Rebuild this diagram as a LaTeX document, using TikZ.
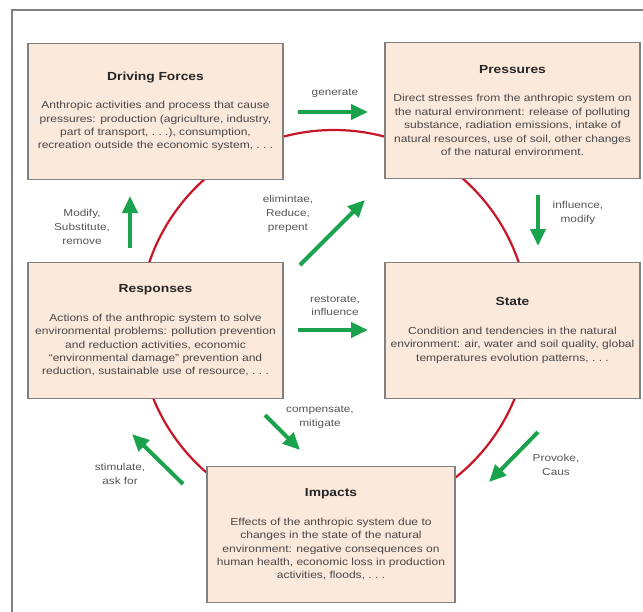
\documentclass[tikz,border=0pt]{standalone}
\usepackage{fontspec}
\setmainfont[FakeStretch=1.18]{Liberation Sans}
\usetikzlibrary{arrows.meta}

\definecolor{boxfill}{RGB}{251,233,220}
\definecolor{boxline}{RGB}{128,128,128}
\definecolor{ringred}{RGB}{200,22,40}
\definecolor{flowgreen}{RGB}{26,163,76}
\definecolor{labelgray}{RGB}{85,85,85}
\newcommand{\boxhead}[1]{{\fontsize{11.7}{14}\selectfont\bfseries\color{black!85}#1}}
\newcommand{\etcdots}{.\ .\ .}

\begin{document}
\begin{tikzpicture}[x=1pt, y=-1pt,
  box/.style={draw=boxline, line width=1.5pt, fill=boxfill, minimum width=255pt,
    minimum height=136pt, inner sep=0pt, align=center, text=black!72,
    font=\fontsize{10.2}{13.4}\selectfont},
  ring/.style={ringred, line width=2.2pt},
  flow/.style={-{Triangle[length=17pt,width=15pt]}, flowgreen, line width=4pt},
  flowlabel/.style={align=center, text=labelgray, font=\fontsize{10}{13.6}\selectfont}]
  \clip (0,0) rectangle (643,611);

  % Outer frame
  \draw[boxline, line width=1.2pt] (12,10) rectangle (660,630);

  % Red cycle behind the boxes
  \draw[ring] (334,325) circle[radius=195pt];

  % Boxes
  \node[box] (drive) at (155.5,111.5) {\boxhead{Driving Forces}\\[15pt]
    Anthropic activities and process that cause\\
    pressures: production (agriculture, industry,\\
    part of transport, \etcdots), consumption,\\
    recreation outside the economic system, \etcdots};
  \node[box] (press) at (512.5,110.5) {\boxhead{Pressures}\\[15pt]
    Direct stresses from the anthropic system on\\
    the natural environment: release of polluting\\
    substance, radiation emissions, intake of\\
    natural resources, use of soil, other changes\\
    of the natural environment.};
  \node[box] (resp) at (155.5,330.5) {\boxhead{Responses}\\[15pt]
    Actions of the anthropic system to solve\\
    environmental problems: pollution prevention\\
    and reduction activities, economic\\
    ``environmental damage'' prevention and\\
    reduction, sustainable use of resource, \etcdots};
  \node[box] (state) at (512.5,330.5) {\boxhead{State}\\[15pt]
    Condition and tendencies in the natural\\
    environment: air, water and soil quality, global\\
    temperatures evolution patterns, \etcdots};
  \node[box, minimum width=248pt] (impact) at (331,534.5) {\boxhead{Impacts}\\[15pt]
    Effects of the anthropic system due to\\
    changes in the state of the natural\\
    environment: negative consequences on\\
    human health, economic loss in production\\
    activities, floods, \etcdots};

  % Arrow ends
  \coordinate (gen-a) at (298,112);  \coordinate (gen-b) at (368,112);
  \coordinate (inf-a) at (538,195);  \coordinate (inf-b) at (538,246);
  \coordinate (rest-a) at (298,330); \coordinate (rest-b) at (368,330);
  \coordinate (elim-a) at (300,265); \coordinate (elim-b) at (365,200);
  \coordinate (mod-a) at (130,248);  \coordinate (mod-b) at (130,196);
  \coordinate (comp-a) at (265,415); \coordinate (comp-b) at (300,450);
  \coordinate (stim-a) at (183,484); \coordinate (stim-b) at (132,434);
  \coordinate (prov-a) at (538,432); \coordinate (prov-b) at (489,482);

  % Green arrows
  \draw[flow] (gen-a) -- (gen-b);    % D -> P
  \draw[flow] (inf-a) -- (inf-b);    % P -> S
  \draw[flow] (prov-a) -- (prov-b);  % S -> I
  \draw[flow] (stim-a) -- (stim-b);  % I -> R
  \draw[flow] (mod-a) -- (mod-b);    % R -> D
  \draw[flow] (elim-a) -- (elim-b);  % R -> P
  \draw[flow] (rest-a) -- (rest-b);  % R -> S
  \draw[flow] (comp-a) -- (comp-b);  % R -> I

  % Labels
  \node[flowlabel] (gen-l) at (335,93) {generate};
  \node[flowlabel] (inf-l) at (578,213) {influence,\\modify};
  \node[flowlabel] (rest-l) at (335,306) {restorate,\\influence};
  \node[flowlabel] (elim-l) at (288,214) {elimintae,\\Reduce,\\prepent};
  \node[flowlabel] (mod-l) at (82,227) {Modify,\\Substitute,\\remove};
  \node[flowlabel] (comp-l) at (320,417) {compensate,\\mitigate};
  \node[flowlabel] (stim-l) at (120,474) {stimulate,\\ask for};
  \node[flowlabel] (prov-l) at (556,465) {Provoke,\\Caus};
\end{tikzpicture}
\end{document}
